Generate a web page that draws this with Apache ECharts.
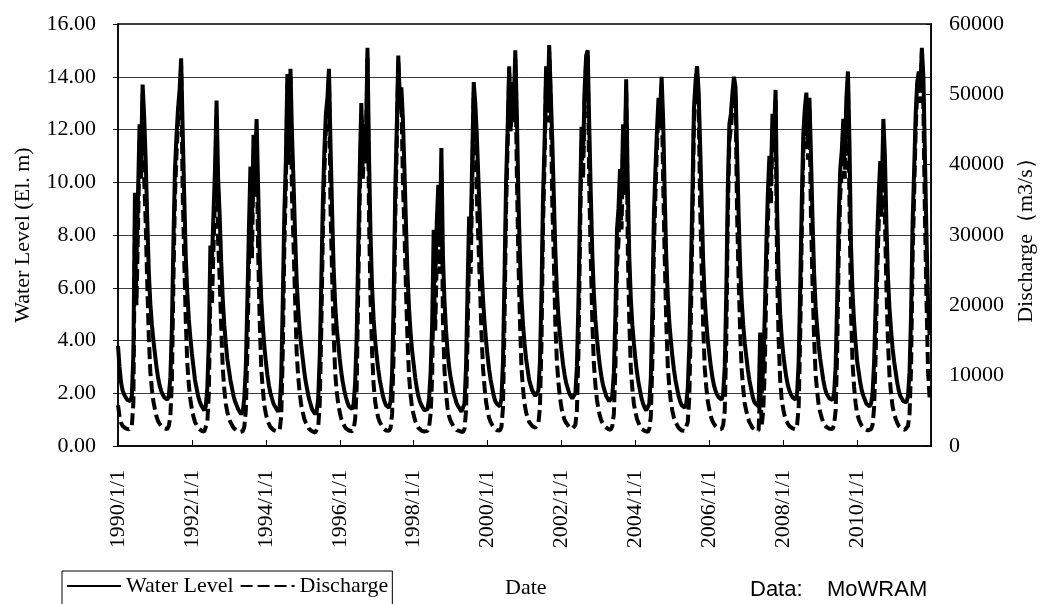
<!DOCTYPE html>
<html>
<head>
<meta charset="utf-8">
<title>Water Level and Discharge 1990-2011</title>
<script src="https://cdn.jsdelivr.net/npm/echarts@6.0.0/dist/echarts.min.js"></script>
<style>
html, body { margin: 0; padding: 0; background: #fff; }
#chart { width: 1045px; height: 604px; }
</style>
</head>
<body>
<div id="chart"></div>
<script>
// semi-monthly readings (1st and 16th of every month), one row per year
var startYear = 1990;
var pointsPerYear = 24;

// Water Level (El. m)
var waterLevel = [
	[3.8, 3.0, 2.4, 2.1, 1.95, 1.85, 1.75, 1.7, 1.7, 1.9, 3.5, 9.6, 7.0, 9.5, 12.2, 11.0, 13.7, 12.5, 10.8, 8.6, 6.6, 5.4, 4.6, 4.0],       //1990
	[3.5, 3.0, 2.6, 2.3, 2.1, 1.95, 1.85, 1.8, 1.75, 1.9, 2.6, 4.5, 7.8, 10.5, 11.8, 12.8, 13.5, 14.7, 12.0, 9.5, 7.2, 5.8, 4.8, 4.1],      //1991
	[3.5, 3.0, 2.5, 2.2, 1.9, 1.7, 1.55, 1.45, 1.35, 1.5, 2.2, 4.0, 7.6, 7.0, 8.8, 10.5, 13.1, 10.2, 8.8, 7.0, 5.6, 4.6, 3.9, 3.3],         //1992
	[2.9, 2.5, 2.2, 1.9, 1.7, 1.55, 1.4, 1.3, 1.2, 1.3, 1.8, 3.0, 5.5, 8.2, 10.6, 8.5, 11.8, 10.5, 12.4, 9.8, 7.2, 5.6, 4.6, 3.8],          //1993
	[3.2, 2.7, 2.3, 2.0, 1.8, 1.6, 1.5, 1.4, 1.3, 1.5, 2.6, 5.5, 8.8, 10.8, 14.1, 11.5, 14.3, 11.8, 10.0, 8.0, 6.3, 5.2, 4.4, 3.8],         //1994
	[3.3, 2.8, 2.4, 2.1, 1.8, 1.6, 1.4, 1.3, 1.2, 1.3, 1.8, 3.4, 6.2, 9.2, 11.2, 12.6, 13.2, 14.3, 11.4, 9.0, 6.8, 5.4, 4.5, 3.9],          //1995
	[3.3, 2.8, 2.4, 2.1, 1.85, 1.65, 1.5, 1.45, 1.4, 1.6, 2.4, 4.2, 7.5, 10.5, 13.0, 11.0, 12.2, 11.5, 15.1, 11.0, 8.0, 6.0, 4.8, 4.0],     //1996
	[3.4, 2.9, 2.5, 2.2, 1.9, 1.7, 1.55, 1.5, 1.45, 1.7, 2.8, 5.5, 9.6, 12.0, 14.8, 13.2, 13.6, 12.4, 10.5, 8.4, 6.5, 5.2, 4.3, 3.6],       //1997
	[3.1, 2.6, 2.2, 1.9, 1.7, 1.55, 1.45, 1.35, 1.3, 1.4, 1.8, 2.8, 4.6, 8.2, 6.2, 8.5, 9.9, 8.0, 11.3, 7.2, 5.5, 4.4, 3.6, 3.0],           //1998
	[2.6, 2.3, 2.0, 1.8, 1.6, 1.5, 1.4, 1.3, 1.3, 1.6, 3.0, 6.0, 8.7, 8.0, 10.8, 13.8, 13.0, 11.8, 10.2, 8.6, 6.8, 5.6, 4.7, 4.0],          //1999
	[3.4, 2.9, 2.5, 2.2, 1.9, 1.7, 1.6, 1.55, 1.5, 1.8, 3.2, 6.5, 10.0, 12.0, 14.4, 12.5, 13.8, 12.8, 15.0, 12.6, 9.5, 7.2, 5.6, 4.6],      //2000
	[3.9, 3.3, 2.9, 2.5, 2.3, 2.1, 2.0, 1.9, 1.85, 2.1, 3.2, 5.8, 9.5, 11.5, 14.4, 12.8, 15.2, 13.4, 11.6, 9.5, 7.4, 5.9, 4.9, 4.2],        //2001
	[3.6, 3.1, 2.7, 2.4, 2.2, 2.0, 1.9, 1.8, 1.75, 2.0, 3.0, 5.5, 9.0, 12.1, 11.0, 13.5, 14.8, 15.0, 12.2, 9.6, 7.3, 5.8, 4.8, 4.1],        //2002
	[3.5, 3.0, 2.6, 2.3, 2.1, 1.9, 1.8, 1.7, 1.65, 1.9, 2.8, 5.0, 8.2, 9.0, 10.5, 9.4, 12.2, 10.5, 13.9, 10.0, 7.2, 5.6, 4.6, 3.9],         //2003
	[3.3, 2.8, 2.4, 2.1, 1.8, 1.6, 1.45, 1.35, 1.3, 1.6, 2.6, 5.2, 8.8, 10.5, 12.0, 13.2, 12.6, 14.0, 12.4, 9.6, 7.2, 5.7, 4.7, 4.0],       //2004
	[3.4, 2.9, 2.5, 2.2, 1.9, 1.7, 1.55, 1.5, 1.45, 1.6, 2.2, 3.8, 6.5, 9.5, 12.8, 13.8, 14.4, 13.5, 11.5, 9.2, 7.0, 5.6, 4.7, 4.0],        //2005
	[3.5, 3.0, 2.6, 2.3, 2.1, 1.95, 1.85, 1.8, 1.75, 2.0, 3.0, 5.8, 9.8, 12.2, 12.6, 13.4, 14.0, 13.6, 11.2, 8.8, 6.8, 5.5, 4.6, 3.9],      //2006
	[3.4, 2.9, 2.5, 2.2, 1.9, 1.7, 1.6, 1.55, 1.5, 4.3, 2.0, 3.0, 5.0, 7.6, 9.6, 11.0, 10.2, 12.6, 11.8, 13.5, 9.0, 6.5, 5.0, 4.1],         //2007
	[3.5, 3.0, 2.6, 2.3, 2.1, 1.95, 1.85, 1.8, 1.75, 2.0, 3.2, 6.0, 9.2, 11.8, 12.8, 13.4, 11.6, 13.2, 11.0, 8.6, 6.6, 5.3, 4.5, 3.8],      //2008
	[3.3, 2.9, 2.5, 2.2, 2.0, 1.9, 1.8, 1.75, 1.75, 2.0, 3.0, 5.5, 8.6, 10.5, 11.2, 12.4, 11.0, 13.2, 14.2, 11.5, 7.6, 5.8, 4.7, 3.9],      //2009
	[3.2, 2.8, 2.4, 2.1, 1.9, 1.75, 1.6, 1.55, 1.5, 1.6, 2.0, 3.2, 5.4, 8.0, 9.6, 10.8, 9.8, 12.4, 11.0, 8.4, 6.4, 5.2, 4.4, 3.7],          //2010
	[3.2, 2.8, 2.4, 2.1, 1.9, 1.8, 1.7, 1.65, 1.65, 1.9, 2.8, 5.0, 8.5, 10.5, 12.6, 13.8, 14.2, 13.4, 15.1, 14.0, 11.0, 8.0, 5.5, 4.2]      //2011
];

// Discharge (m3/s)
var discharge = [
	[5800, 4200, 3300, 2850, 2650, 2500, 2400, 2350, 2350, 2850, 6200, 31500, 20000, 31000, 43000, 38000, 50000, 38000, 31500, 23000, 15500, 10500, 8100, 6300],   //1990
	[5200, 4200, 3550, 3150, 2850, 2650, 2500, 2450, 2400, 2850, 4200, 9200, 23500, 35500, 41500, 46000, 49000, 54000, 36000, 26500, 17800, 11700, 8700, 6600],    //1991
	[5200, 4200, 3400, 3000, 2600, 2350, 2200, 2150, 2050, 2300, 3400, 7500, 22500, 20000, 28000, 35500, 47000, 29200, 23900, 17000, 11100, 8100, 6000, 4800],     //1992
	[4000, 3400, 3000, 2600, 2350, 2200, 2100, 2000, 1900, 2100, 2700, 5000, 13200, 25400, 36000, 26700, 41500, 35500, 44000, 27700, 17800, 11100, 8100, 5800],    //1993
	[4600, 3700, 3150, 2700, 2450, 2250, 2200, 2100, 2000, 2300, 4200, 13200, 28000, 37000, 51500, 40000, 52500, 35400, 28500, 20800, 13400, 9900, 7500, 5800],    //1994
	[4800, 3850, 3300, 2850, 2450, 2250, 2100, 2000, 1900, 2100, 2700, 6000, 16400, 29900, 38900, 45000, 47800, 52500, 33800, 24600, 16200, 10500, 7800, 6000],    //1995
	[4800, 3850, 3300, 2850, 2500, 2300, 2200, 2150, 2100, 2400, 3800, 8200, 22200, 35500, 47000, 38000, 43400, 40200, 55500, 32300, 20800, 13200, 8700, 6300],    //1996
	[5000, 4000, 3400, 3000, 2600, 2350, 2200, 2200, 2150, 2550, 4600, 13200, 31700, 42500, 54500, 47900, 49700, 37600, 30400, 22300, 15100, 9900, 7200, 5400],    //1997
	[4400, 3550, 3000, 2600, 2350, 2200, 2150, 2050, 2000, 2150, 2700, 4600, 9600, 25400, 16400, 26700, 33000, 24500, 39300, 17800, 10800, 7500, 5400, 4200],      //1998
	[3550, 3150, 2700, 2450, 2250, 2200, 2100, 2000, 2000, 2400, 5000, 15500, 27600, 24500, 37100, 50300, 46500, 35400, 29200, 23100, 16200, 11100, 8400, 6300],   //1999
	[5000, 4000, 3400, 3000, 2600, 2350, 2250, 2200, 2200, 2700, 5500, 17700, 33500, 42500, 53000, 44700, 50500, 46000, 55000, 38400, 26600, 17800, 11100, 8100],  //2000
	[6000, 4800, 4000, 3400, 3150, 2850, 2700, 2600, 2500, 3200, 5500, 14600, 31200, 40200, 53000, 46000, 56000, 48800, 34600, 26600, 17300, 12000, 9000, 6900],   //2001
	[5400, 4400, 3700, 3300, 3000, 2700, 2600, 2450, 2400, 3000, 5000, 13200, 29000, 42900, 38000, 49200, 54800, 55500, 36900, 26900, 17600, 11700, 8700, 6600],   //2002
	[5200, 4200, 3550, 3150, 2850, 2600, 2450, 2350, 2300, 2850, 4600, 11000, 25400, 29000, 35700, 30800, 43400, 35700, 50800, 28500, 17800, 11100, 8100, 6000],   //2003
	[4800, 3850, 3300, 2850, 2450, 2250, 2150, 2050, 2000, 2400, 4200, 11900, 28100, 35700, 42500, 47900, 45200, 51300, 37600, 26900, 17800, 11400, 8400, 6300],   //2004
	[5000, 4000, 3400, 3000, 2600, 2350, 2200, 2200, 2150, 2400, 3400, 7000, 17700, 31200, 46100, 50600, 53000, 49200, 34200, 25400, 17000, 11100, 8400, 6300],    //2005
	[5200, 4200, 3550, 3150, 2850, 2650, 2500, 2450, 2400, 3000, 5000, 14600, 32600, 43400, 45200, 48800, 51300, 49500, 33000, 23900, 16200, 10800, 8100, 6000],   //2006
	[5000, 4000, 3400, 3000, 2600, 2350, 2250, 2200, 2200, 8500, 2900, 5000, 11000, 22700, 31700, 38000, 34400, 45200, 41600, 49200, 24600, 15100, 9300, 6600],    //2007
	[5200, 4200, 3550, 3150, 2850, 2650, 2500, 2450, 2400, 3000, 5500, 15500, 29900, 41600, 46100, 48800, 40700, 47900, 32300, 23100, 15500, 10200, 7800, 5800],   //2008
	[4800, 4000, 3400, 3000, 2700, 2600, 2450, 2400, 2400, 3000, 5000, 13200, 27200, 35700, 38900, 44300, 38000, 47900, 52000, 34200, 19000, 11700, 8400, 6000],   //2009
	[4600, 3850, 3300, 2850, 2600, 2400, 2250, 2200, 2200, 2400, 3000, 5500, 12800, 24500, 31700, 37100, 32600, 44300, 32300, 22300, 14700, 9900, 7500, 5600],     //2010
	[4600, 3850, 3300, 2850, 2600, 2450, 2350, 2300, 2300, 2850, 4600, 11000, 26700, 35700, 45200, 50600, 52400, 48800, 56000, 48000, 32300, 20800, 10800, 6900]    //2011
];

var seriesNames = ['Water Level', 'Discharge'];

// rows -> [decimal year, value]
function toPoints(rows){
	var pts = [];
	rows.forEach(function(row, y){
		row.forEach(function(v, i){
			pts.push([startYear + y + i / pointsPerYear, v]);
		});
	});
	return pts;
}

var serif = 'Liberation Serif';

option = {
	animation: false,
	backgroundColor: '#fff',
	grid: {
		left: 118, right: 111, top: 24, bottom: 158,
		show: true,
		borderColor: '#000',
		borderWidth: 1.5
	},
	legend: {
		data: seriesNames,
		left: 62, top: 571,
		itemWidth: 54, itemHeight: 12,
		itemGap: 6,
		padding: [4, 4, 14, 4],
		borderColor: '#000', borderWidth: 1,
		backgroundColor: '#fff',
		itemStyle: { opacity: 0 },          // line only, no marker
		textStyle: { fontFamily: serif, fontSize: 22, color: '#000' }
	},
	xAxis: {
		type: 'value',
		min: 1990, max: 2012, interval: 2,
		axisLine: { lineStyle: { color: '#000', width: 1.5 } },
		axisTick: { inside: true, length: 6, lineStyle: { color: '#000' } },
		splitLine: { show: false },
		axisLabel: {
			rotate: 90,
			margin: 24,
			showMaxLabel: false,
			fontFamily: serif, fontSize: 22, color: '#000',
			formatter: function(v){ return v + '/1/1'; }
		}
	},
	yAxis: [
		{
			type: 'value',
			min: 0, max: 16, interval: 2,
			name: 'Water Level (El. m)',
			nameLocation: 'middle',
			nameGap: 84,
			nameTextStyle: { fontFamily: serif, fontSize: 22, color: '#000' },
			axisLine: { show: true, lineStyle: { color: '#000', width: 1.5 } },
			axisTick: { show: true, length: 5, lineStyle: { color: '#000' } },
			splitLine: { show: true, lineStyle: { color: '#3a3a3a', width: 1 } },
			axisLabel: {
				margin: 22,
				fontFamily: serif, fontSize: 22, color: '#000',
				formatter: function(v){ return v.toFixed(2); }
			}
		},
		{
			type: 'value',
			position: 'right',
			min: 0, max: 60000, interval: 10000,
			name: 'Discharge（m3/s）',
			nameLocation: 'middle',
			nameGap: 82,
			nameTextStyle: { fontFamily: serif, fontSize: 22, color: '#000' },
			axisLine: { show: true, lineStyle: { color: '#000', width: 1.5 } },
			axisTick: { show: true, inside: true, length: 5, lineStyle: { color: '#000' } },
			splitLine: { show: false },
			axisLabel: {
				margin: 18,
				fontFamily: serif, fontSize: 22, color: '#000',
				formatter: function(v){ return String(v); }
			}
		}
	],
	graphic: [
		{
			type: 'text', left: 505, top: 577,
			style: { text: 'Date', font: '22px "Liberation Serif"', fill: '#000' }
		},
		{
			type: 'text', left: 750, top: 579,
			style: { text: 'Data:    MoWRAM', font: '22px "Liberation Sans"', fill: '#000' }
		}
	],
	series: [
		{
			name: seriesNames[0],
			type: 'line',
			yAxisIndex: 0,
			symbol: 'none',
			lineStyle: { color: '#000', width: 4 },
			itemStyle: { color: '#000' },
			data: toPoints(waterLevel)
		},
		{
			name: seriesNames[1],
			type: 'line',
			yAxisIndex: 1,
			symbol: 'none',
			lineStyle: { color: '#000', width: 4, type: [12, 5] },
			itemStyle: { color: '#000' },
			data: toPoints(discharge)
		}
	]
};

var chart = echarts.init(document.getElementById('chart'));
chart.setOption(option);
</script>
</body>
</html>
